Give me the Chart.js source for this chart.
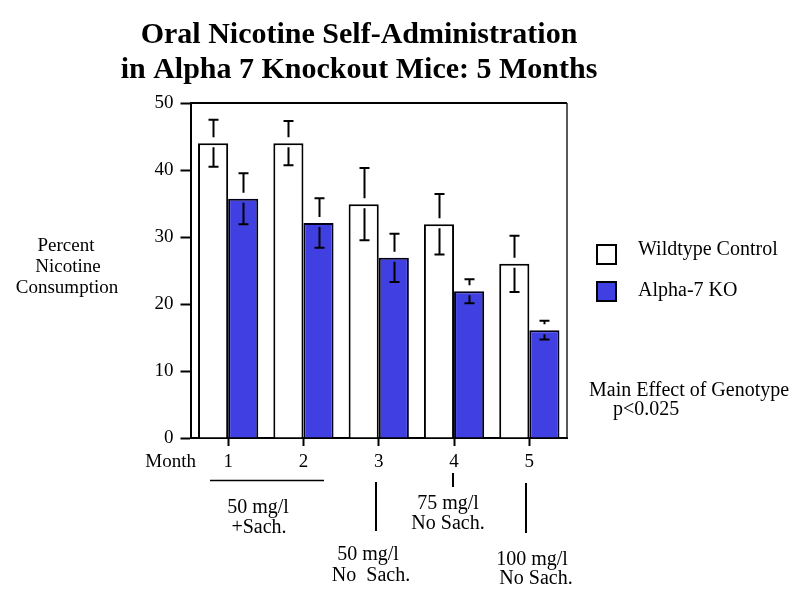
<!DOCTYPE html>
<html>
<head>
<meta charset="utf-8">
<script src="https://cdn.jsdelivr.net/npm/chart.js@4.4.1/dist/chart.umd.min.js"></script>
<style>html,body{margin:0;padding:0;background:#fff;}canvas{display:block;}</style>
</head>
<body>
<canvas id="c" width="800" height="598"></canvas>
<script>
const months = ['1', '2', '3', '4', '5'];
const wildtype = [44.0, 44.0, 34.9, 31.9, 26.0];
const wildtypeErr = [3.5, 3.3, 5.4, 4.5, 4.2];
const knockout = [35.7, 32.1, 26.9, 21.9, 16.1];
const knockoutErr = [3.8, 3.7, 3.6, 1.8, 1.4];
const yTicks = [0, 10, 20, 30, 40, 50];
const seriesNames = ['Wildtype Control', 'Alpha-7 KO'];
const titleLines = ['Oral Nicotine Self-Administration', 'in Alpha 7 Knockout Mice: 5 Months'];
const yLabelLines = ['Percent', 'Nicotine', 'Consumption'];
const BLUE = 'rgb(64,64,226)';
const SERIF = '"Liberation Serif", "Times New Roman", serif';

const errors = [wildtypeErr, knockoutErr];

const annot = {
  id: 'annot',
  afterDatasetsDraw(chart) {
    const ctx = chart.ctx;
    const ys = chart.scales.y;
    ctx.save();
    ctx.strokeStyle = '#000';
    ctx.lineWidth = 2;
    chart.data.datasets.forEach((ds, i) => {
      const meta = chart.getDatasetMeta(i);
      meta.data.forEach((bar, j) => {
        const v = ds.data[j], e = errors[i][j];
        const x = Math.round(bar.x) + 0.5;
        const yT = ys.getPixelForValue(v + e);
        const yB = ys.getPixelForValue(v - e);
        const yM = bar.y;
        ctx.beginPath();
        ctx.moveTo(x - 5, yT); ctx.lineTo(x + 5, yT);
        ctx.moveTo(x, yT); ctx.lineTo(x, yM - 6);
        ctx.moveTo(x, yM + 4); ctx.lineTo(x, yB);
        ctx.moveTo(x - 5, yB); ctx.lineTo(x + 5, yB);
        ctx.stroke();
      });
    });
    ctx.restore();
  },
  afterDraw(chart) {
    const ctx = chart.ctx;
    const a = chart.chartArea;
    ctx.save();
    // frame top and right
    ctx.strokeStyle = '#000';
    ctx.lineWidth = 2;
    ctx.beginPath();
    ctx.moveTo(a.left, a.top); ctx.lineTo(a.right, a.top);
    ctx.stroke();
    ctx.lineWidth = 1.5;
    ctx.strokeStyle = '#222';
    ctx.beginPath();
    ctx.moveTo(a.right, a.top); ctx.lineTo(a.right, a.bottom);
    ctx.stroke();

    ctx.fillStyle = '#000';
    ctx.textBaseline = 'alphabetic';
    // title
    ctx.font = 'bold 30px ' + SERIF;
    ctx.textAlign = 'center';
    ctx.fillText(titleLines[0], 359, 43);
    ctx.fillText(titleLines[1], 359, 78);

    // y label
    ctx.font = '19px ' + SERIF;
    ctx.fillText(yLabelLines[0], 66, 251);
    ctx.fillText(yLabelLines[1], 68, 272);
    ctx.fillText(yLabelLines[2], 67, 293);

    // Month label
    ctx.textAlign = 'right';
    ctx.fillText('Month', 196, 467);

    // legend
    ctx.textAlign = 'left';
    ctx.font = '20px ' + SERIF;
    const ds = chart.data.datasets;
    const boxes = [[597, 245], [597, 282]];
    const texts = [255, 296];
    ds.forEach((d, i) => {
      ctx.fillStyle = d.backgroundColor;
      ctx.fillRect(boxes[i][0], boxes[i][1], 19, 19);
      ctx.strokeStyle = '#000';
      ctx.lineWidth = 2;
      ctx.strokeRect(boxes[i][0], boxes[i][1], 19, 19);
      ctx.fillStyle = '#000';
      ctx.fillText(d.label, 638, texts[i]);
    });

    // stats note
    ctx.font = '20px ' + SERIF;
    ctx.fillText('Main Effect of Genotype', 589, 396);
    ctx.fillText('p<0.025', 613, 415);

    // phase annotations
    ctx.textAlign = 'center';
    ctx.font = '20px ' + SERIF;
    ctx.fillText('50 mg/l', 258, 513);
    ctx.fillText('+Sach.', 259, 533);
    ctx.fillText('50 mg/l', 368, 560);
    ctx.fillText('No  Sach.', 371, 581);
    ctx.fillText('75 mg/l', 448, 509);
    ctx.fillText('No Sach.', 448, 529);
    ctx.fillText('100 mg/l', 532, 565);
    ctx.fillText('No Sach.', 536, 584);

    ctx.strokeStyle = '#000';
    ctx.lineWidth = 1.5;
    ctx.beginPath();
    ctx.moveTo(210, 480.5); ctx.lineTo(324, 480.5);
    ctx.stroke();
    ctx.lineWidth = 2;
    ctx.beginPath();
    ctx.moveTo(376, 482); ctx.lineTo(376, 531);
    ctx.moveTo(453, 473); ctx.lineTo(453, 487);
    ctx.moveTo(526, 483); ctx.lineTo(526, 533);
    ctx.stroke();
    ctx.restore();
  }
};

new Chart(document.getElementById('c'), {
  type: 'bar',
  data: {
    labels: months,
    datasets: [
      { label: seriesNames[0], data: wildtype, backgroundColor: '#ffffff', borderColor: '#000', borderWidth: 2 },
      { label: seriesNames[1], data: knockout, backgroundColor: BLUE, borderColor: '#000018', borderWidth: 2 }
    ]
  },
  options: {
    responsive: false,
    animation: false,
    devicePixelRatio: 1,
    layout: { padding: { left: 0, right: 233, top: 103, bottom: 0 } },
    plugins: { legend: { display: false }, title: { display: false }, tooltip: { enabled: false } },
    datasets: { bar: { categoryPercentage: 0.8, barPercentage: 1.0 } },
    scales: {
      x: {
        type: 'category',
        offset: true,
        grid: { offset: false, drawOnChartArea: false, drawTicks: true, tickLength: 8, tickColor: '#000', tickWidth: 2 },
        border: { display: true, color: '#000', width: 2 },
        ticks: { color: '#000', font: { family: 'Liberation Serif', size: 19 }, padding: 5, maxRotation: 0 },
        afterFit(s) { s.height = 160; }
      },
      y: {
        min: 0, max: 50,
        afterBuildTicks(s) { s.ticks = yTicks.map(v => ({ value: v })); },
        grid: { drawOnChartArea: false, drawTicks: true, tickLength: 10, tickColor: '#000', tickWidth: 2 },
        border: { display: true, color: '#000', width: 2 },
        ticks: { color: '#000', font: { family: 'Liberation Serif', size: 19 }, padding: 7 },
        afterFit(s) { s.width = 190.5; }
      }
    }
  },
  plugins: [annot]
});
</script>
</body>
</html>
